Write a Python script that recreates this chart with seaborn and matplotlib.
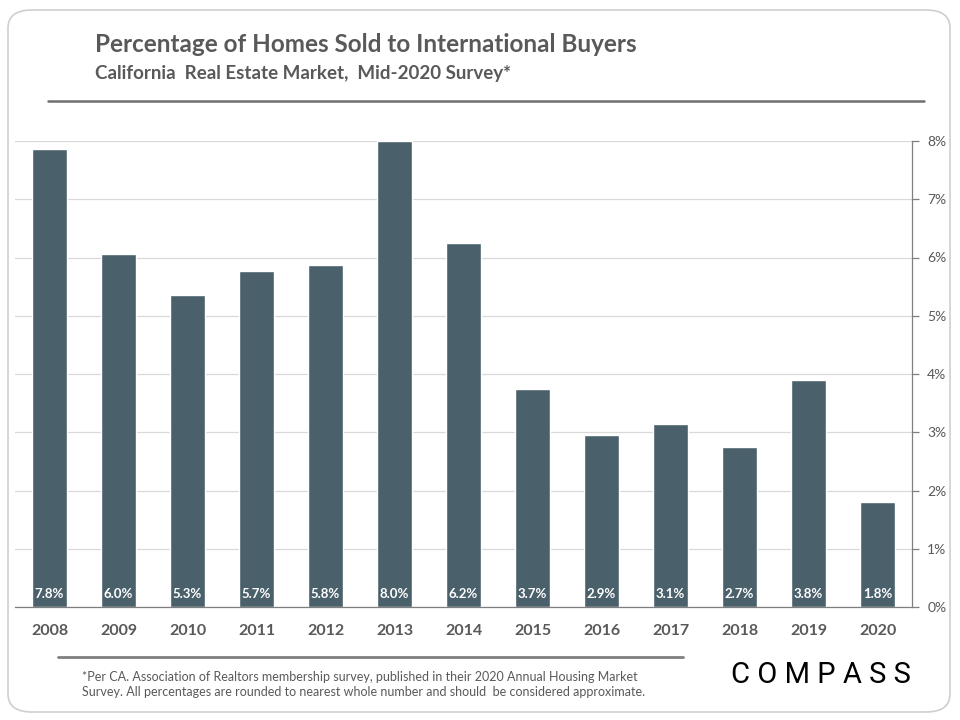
import matplotlib
matplotlib.use("Agg")
import matplotlib.pyplot as plt
from matplotlib.patches import FancyBboxPatch
from matplotlib.lines import Line2D
import seaborn as sns
import pandas as pd

years = ["2008", "2009", "2010", "2011", "2012", "2013", "2014",
         "2015", "2016", "2017", "2018", "2019", "2020"]
share = [7.86, 6.06, 5.36, 5.77, 5.87, 8.0, 6.25, 3.75, 2.95, 3.15, 2.75, 3.9, 1.8]
bar_labels = ["7.8%", "6.0%", "5.3%", "5.7%", "5.8%", "8.0%", "6.2%",
              "3.7%", "2.9%", "3.1%", "2.7%", "3.8%", "1.8%"]
y_ticks = [0, 1, 2, 3, 4, 5, 6, 7, 8]

df = pd.DataFrame({"Year": years, "Share": share})

sns.set_style("white")
plt.rcParams['font.family'] = ['Liberation Sans Narrow', 'Lato', 'DejaVu Sans']

bar_color = "#4a606b"
grey = "#595959"

fig = plt.figure(figsize=(9.6, 7.2), dpi=100)
ax = fig.add_axes([15 / 960, 113 / 720, 897 / 960, 466 / 720])

sns.barplot(data=df, x="Year", y="Share", color=bar_color, width=0.5,
            saturation=1, ax=ax)

for i, lab in enumerate(bar_labels):
    ax.text(i, 0.22, lab, ha="center", va="center", color="white",
            fontsize=9.5, fontweight="bold")

ax.set_xlim(-0.5, len(years) - 0.5)
ax.set_ylim(0, 8)
ax.set_yticks(y_ticks)
ax.set_yticklabels([f"{t}%" for t in y_ticks], fontsize=10, color=grey)
ax.yaxis.tick_right()
ax.yaxis.grid(True, color="#d9d9d9", linewidth=0.9)
ax.set_axisbelow(True)
ax.set_xlabel("")
ax.set_ylabel("")

# x tick marks between categories, labels centred
ax.set_xticks([i - 0.5 for i in range(len(years) + 1)], minor=False)
ax.set_xticklabels([""] * (len(years) + 1))
ax.set_xticks(range(len(years)), minor=True)
ax.set_xticklabels(years, minor=True, fontsize=11.5, fontweight="bold", color=grey)
ax.tick_params(axis="x", which="major", direction="out", length=5, color="#7f7f7f", width=0.9)
ax.tick_params(axis="x", which="minor", length=0, pad=12)
ax.tick_params(axis="y", direction="out", length=5, color="#7f7f7f", width=0.9, pad=6)

for s in ["top", "left"]:
    ax.spines[s].set_visible(False)
for s in ["bottom", "right"]:
    ax.spines[s].set_color("#7f7f7f")
    ax.spines[s].set_linewidth(0.9)

# rounded frame
frame = FancyBboxPatch((8 / 960, 8 / 720), 942 / 960, 702 / 720,
                       boxstyle="round,pad=0,rounding_size=0.025",
                       transform=fig.transFigure, fill=False,
                       edgecolor="#cfcfcf", linewidth=1.2)
fig.patches.append(frame)

fig.text(95 / 960, 1 - 45 / 720, "Percentage of Homes Sold to International Buyers",
         fontsize=17.5, fontweight="bold", color=grey, va="center")
fig.text(95 / 960, 1 - 74 / 720, "California  Real Estate Market,  Mid-2020 Survey*",
         fontsize=13.5, fontweight="bold", color=grey, va="center")
fig.add_artist(Line2D([48 / 960, 924 / 960], [1 - 101 / 720, 1 - 101 / 720],
                      transform=fig.transFigure, color="#6f6f6f", linewidth=1.8))

fig.add_artist(Line2D([58 / 960, 683 / 960], [1 - 657 / 720, 1 - 657 / 720],
                      transform=fig.transFigure, color="#7f7f7f", linewidth=2))
fig.text(82 / 960, 1 - 677 / 720,
         "*Per CA. Association of Realtors membership survey, published in their 2020 Annual Housing Market",
         fontsize=9, color=grey, va="center")
fig.text(82 / 960, 1 - 692 / 720,
         "Survey. All percentages are rounded to nearest whole number and should  be considered approximate.",
         fontsize=9, color=grey, va="center")
fig.text(821 / 960, 1 - 675 / 720, "C O M P A S S", fontsize=21, color="black",
         ha="center", va="center", family=["Roboto", "DejaVu Sans"])

fig.savefig("out.png", dpi=100)
